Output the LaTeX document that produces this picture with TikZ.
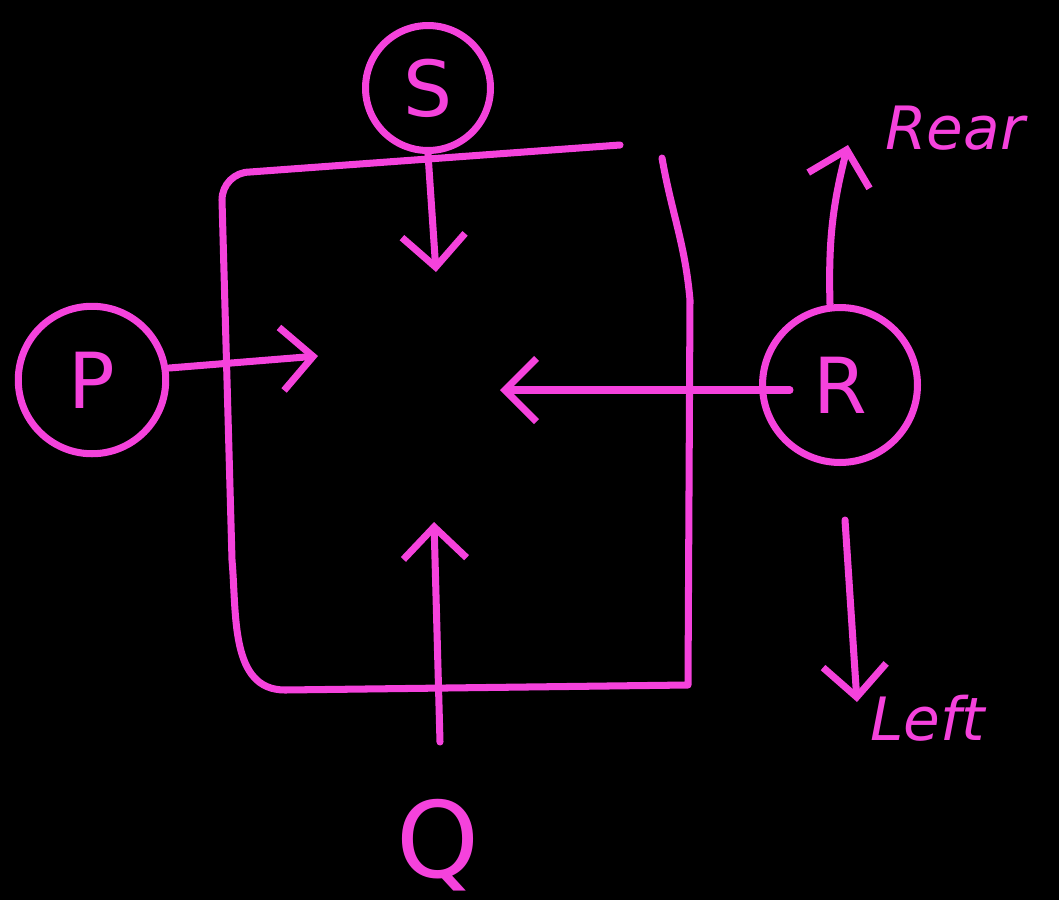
\documentclass[tikz,border=0pt]{standalone}
\usepackage{fontspec}
\setmainfont{DejaVu Sans}
\usetikzlibrary{arrows.meta}
\definecolor{ink}{HTML}{F542DC}
\tikzset{
  pen/.style={draw=ink, line width=4pt, line cap=round, line join=round},
  arr/.style={pen, -{Straight Barb[length=18pt, width=36pt, line width=4pt]}},
  letter/.style={text=ink, font=\fontsize{44}{44}\selectfont, inner sep=0pt},
  word/.style={text=ink, font=\itshape\fontsize{34}{34}\selectfont, inner sep=0pt},
  ring/.style={pen, circle, inner sep=0pt, text=ink, font=\fontsize{44}{44}\selectfont}
}
\begin{document}
\begin{tikzpicture}[x=0.02cm, y=-0.02cm]
\fill[black] (0,0) rectangle (1059,900);
\useasboundingbox (0,0) rectangle (1059,900);
% box
\draw[pen] (620,145) -- (250,172) to[out=180,in=90] (222,200) -- (232,560) to[out=-85,in=180] (285,690) -- (688,685) -- (690,300) to[out=95,in=-80] (662,158);
% circled labels
\node[ring, minimum size=2.5cm] (S) at (428,88) {S};
\node[ring, minimum size=2.95cm] (P) at (92,380) {P};
\node[ring, minimum size=3.1cm] (R) at (840,385) {R};
\node[letter, font=\fontsize{60}{60}\selectfont] (Q) at (438,845) {Q};
% free ends
\coordinate (s1) at (436,272);
\coordinate (p1) at (318,356);
\coordinate (r0) at (790,390);
\coordinate (r1) at (500,390);
\coordinate (q0) at (440,742);
\coordinate (q1) at (434,522);
\coordinate (u1) at (848,145);
\coordinate (d0) at (845,520);
\coordinate (d1) at (857,702);
% arrows
\draw[arr] (S.south) -- (s1);
\draw[arr] (P.east) ++(0,-12) -- (p1);
\draw[arr] (r0) -- (r1);
\draw[arr] (q0) -- (q1);
\draw[arr] (R.north) ++(-10,0) to[bend left=8] (u1);
\draw[arr] (d0) -- (d1);
% words
\node[word, anchor=west] (rear) at (885,128) {Rear};
\node[word, anchor=west] (left) at (870,718) {Left};
\end{tikzpicture}
\end{document}
